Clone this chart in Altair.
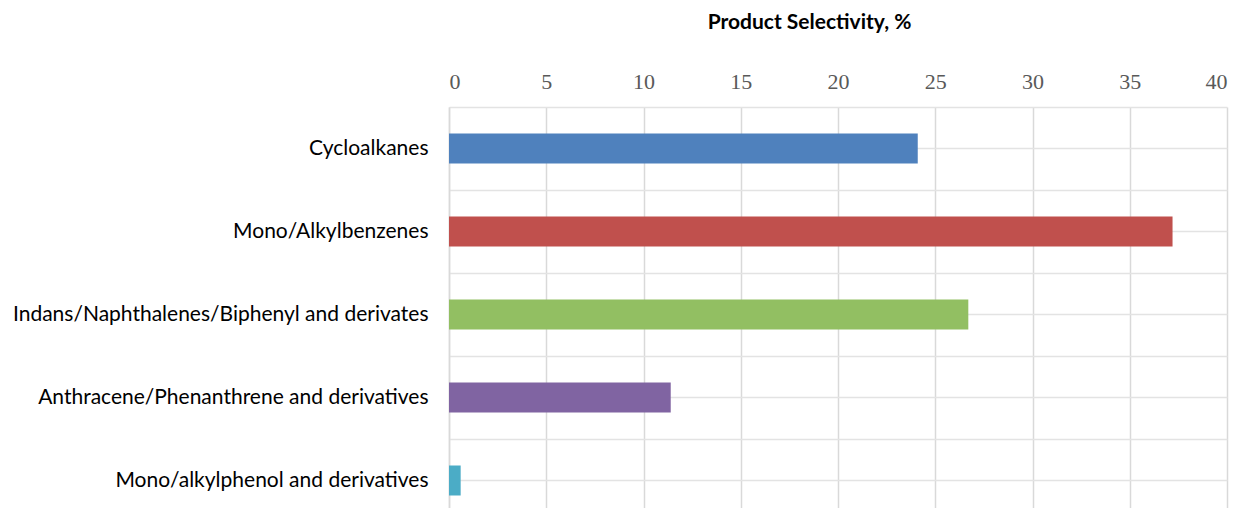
import altair as alt
import pandas as pd

categories = [
    "Cycloalkanes",
    "Mono/Alkylbenzenes",
    "Indans/Naphthalenes/Biphenyl and derivates",
    "Anthracene/Phenanthrene and derivatives",
    "Mono/alkylphenol and derivatives",
]
values = [24.1, 37.2, 26.7, 11.4, 0.6]
colors = ["#4F81BD", "#C0504D", "#92BF62", "#8064A2", "#4BACC6"]
x_ticks = [0, 5, 10, 15, 20, 25, 30, 35, 40]

df = pd.DataFrame({"cat": categories, "value": values})

yscale = alt.Scale(domain=categories, range=[0, 415], paddingInner=0, paddingOuter=0)

x_enc = alt.X(
    "value:Q",
    scale=alt.Scale(domain=[0, 40]),
    axis=alt.Axis(
        orient="top", values=x_ticks, grid=True, gridColor="#d9d9d9", gridWidth=1.5,
        domain=False, ticks=False, labelFont="Liberation Serif", labelFontSize=22,
        labelColor="#595959", labelPadding=14,
        title="Product Selectivity, %", titleFont="Lato", titleFontSize=21,
        titleFontWeight="bold", titleColor="#000000", titleX=360, titleY=-85,
        titleAlign="center", titleBaseline="middle",
    ),
)

bars = alt.Chart(df).mark_bar(size=30).encode(
    x=x_enc,
    y=alt.Y(
        "cat:N", sort=categories, scale=yscale,
        axis=alt.Axis(
            orient="left", title=None, grid=True, gridColor="#e3e3e3", gridWidth=1.5,
            ticks=False, domain=True, domainColor="#d9d9d9", domainWidth=1.5,
            labelFont="Lato", labelFontSize=21, labelColor="#000000", labelPadding=21,
            labelLimit=600,
        ),
    ),
    color=alt.Color("cat:N", scale=alt.Scale(domain=categories, range=colors), legend=None),
)

grid2 = alt.Chart(df).mark_bar(opacity=0).encode(
    x=x_enc,
    y=alt.Y(
        "cat:N", sort=categories, scale=yscale,
        axis=alt.Axis(
            orient="left", title=None, grid=True, gridColor="#e3e3e3", gridWidth=1.5,
            tickBand="extent", labels=False, ticks=False, domain=False,
        ),
    ),
)

chart = alt.layer(grid2, bars).resolve_axis(y="independent").properties(
    width=778, height=401,
    autosize=alt.AutoSizeParams(type="none"),
    padding={"left": 441, "top": 99, "right": 5, "bottom": 0},
).configure_view(stroke=None)

chart.save("out.html", embed_options={"renderer": "svg", "actions": False})
